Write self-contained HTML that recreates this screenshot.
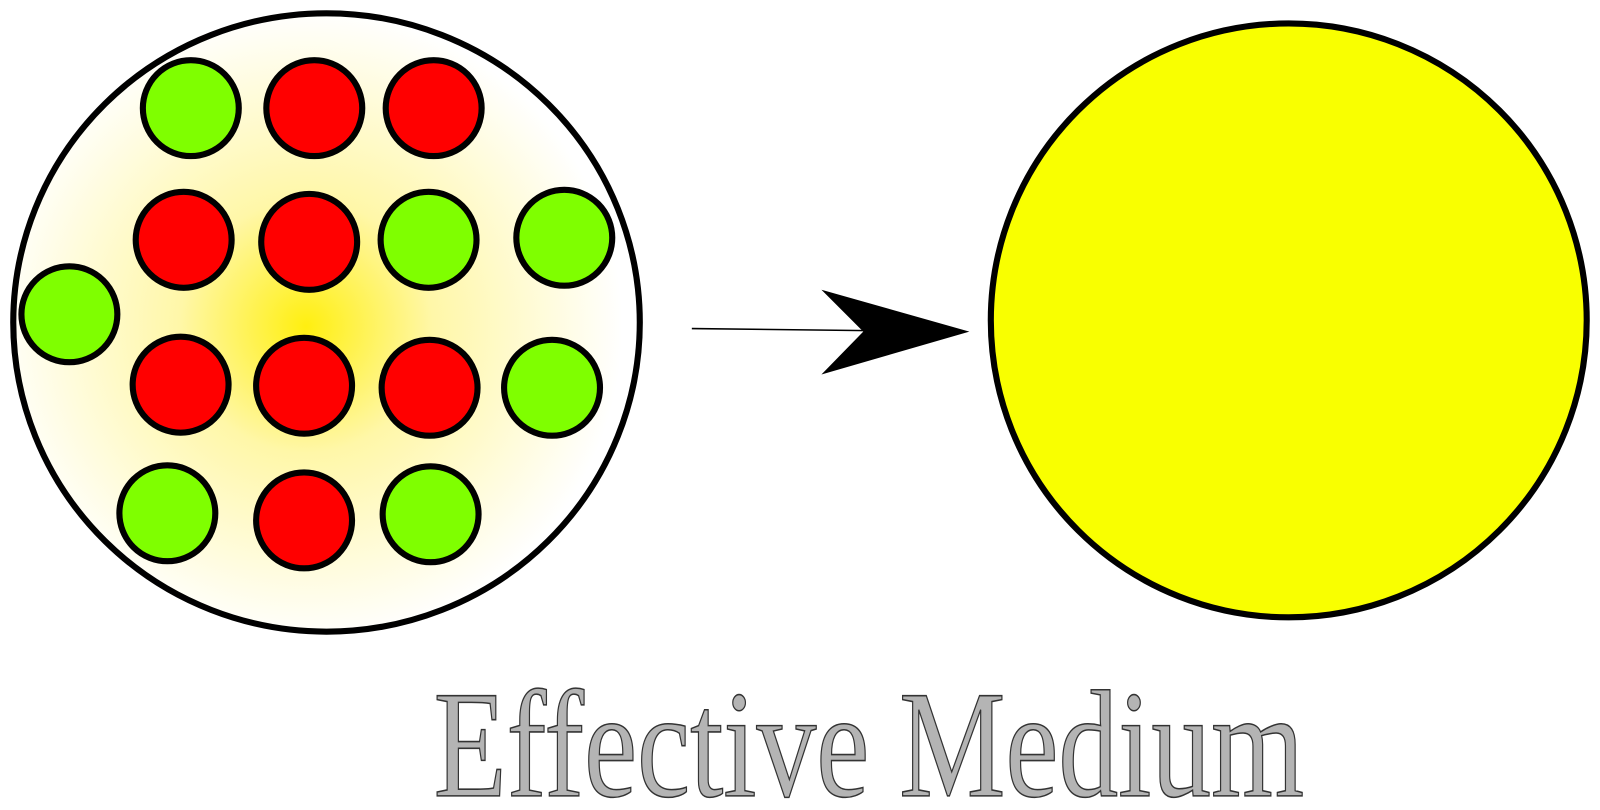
<!DOCTYPE html>
<html><head><style>html,body{margin:0;padding:0;background:#fff}svg{display:block}</style></head>
<body>
<svg width="1600" height="810" viewBox="0 0 1600 810" xmlns="http://www.w3.org/2000/svg">
<defs>
<radialGradient id="g" cx="300" cy="320" r="310" gradientUnits="userSpaceOnUse">
<stop offset="0" stop-color="#ffef10"/>
<stop offset="0.4" stop-color="#fff7a8"/>
<stop offset="1" stop-color="#ffffff"/>
</radialGradient>
</defs>
<g transform="scale(1.0204)">
<ellipse cx="320" cy="316" rx="307" ry="303" fill="url(#g)" stroke="#000" stroke-width="6"/>
<g stroke="#000" stroke-width="6">
<circle cx="187" cy="106" r="47" fill="#7fff00"/>
<circle cx="308" cy="106" r="47" fill="#ff0000"/>
<circle cx="425" cy="106" r="47" fill="#ff0000"/>
<circle cx="180" cy="235" r="47" fill="#ff0000"/>
<circle cx="303" cy="237" r="47" fill="#ff0000"/>
<circle cx="420" cy="235" r="47" fill="#7fff00"/>
<circle cx="553" cy="233" r="47" fill="#7fff00"/>
<circle cx="68" cy="308" r="47" fill="#7fff00"/>
<circle cx="177" cy="377" r="47" fill="#ff0000"/>
<circle cx="298" cy="378" r="47" fill="#ff0000"/>
<circle cx="421" cy="380" r="47" fill="#ff0000"/>
<circle cx="541" cy="380" r="47" fill="#7fff00"/>
<circle cx="164" cy="503" r="47" fill="#7fff00"/>
<circle cx="298" cy="510" r="47" fill="#ff0000"/>
<circle cx="422" cy="504" r="47" fill="#7fff00"/>
</g>
<line x1="678" y1="322" x2="850" y2="324" stroke="#000" stroke-width="1.5"/>
<polygon points="805,284 950,325 805,367 846,325" fill="#000"/>
<ellipse cx="1263" cy="314" rx="292" ry="291" fill="#f9ff00" stroke="#000" stroke-width="6"/>
<text x="425" y="780" font-family="'Liberation Serif', 'Times New Roman', serif" font-size="150" textLength="853" lengthAdjust="spacingAndGlyphs" fill="#b4b4b4" stroke="#333" stroke-width="1.5">Effective Medium</text>
</g>
</svg>
</body></html>
